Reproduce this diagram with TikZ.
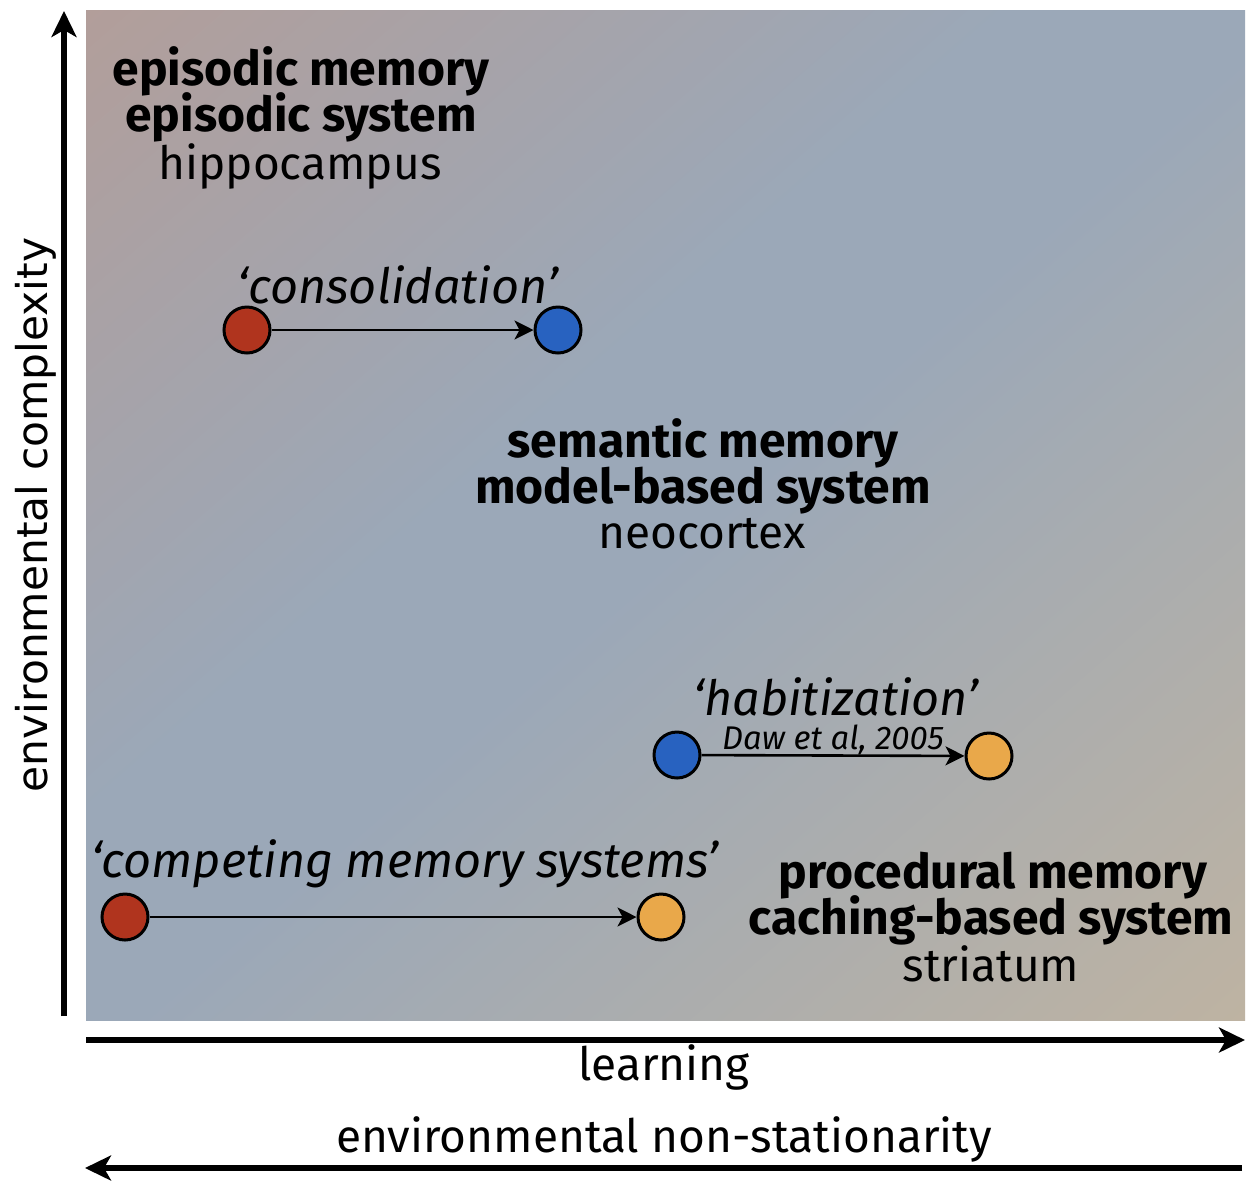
\documentclass[tikz,border=0pt]{standalone}
\usepackage{fontspec}
\setmainfont{Fira Sans}
\newfontfamily\vfont{DejaVu Sans}
\usetikzlibrary{arrows.meta}
\definecolor{bgrose}{RGB}{178,158,154}
\definecolor{bgblue}{RGB}{155,168,184}
\definecolor{bgtan}{RGB}{190,179,162}
\definecolor{cred}{RGB}{176,52,30}
\definecolor{cblue}{RGB}{40,98,192}
\definecolor{corange}{RGB}{233,168,74}
\pgfdeclareverticalshading{bgshade}{100bp}{color(0bp)=(bgtan); color(25bp)=(bgtan); color(49bp)=(bgblue); color(55bp)=(bgblue); color(75bp)=(bgrose); color(100bp)=(bgrose)}
\begin{document}
\begin{tikzpicture}[x=0.5pt,y=-0.5pt,
  boldlbl/.style={font=\bfseries\fontsize{24pt}{26pt}\selectfont, inner sep=0pt, anchor=base},
  reglbl/.style={font=\fontsize{23pt}{26pt}\selectfont, inner sep=0pt, anchor=base},
  itlbl/.style={font=\itshape\fontsize{24.3pt}{26pt}\selectfont, inner sep=0pt, anchor=base},
  smallit/.style={font=\itshape\fontsize{16.4pt}{18pt}\selectfont, inner sep=0pt, anchor=base},
  vlbl/.style={font=\vfont\fontsize{21.2pt}{24pt}\selectfont, inner sep=0pt, anchor=base, rotate=90},
  memdot/.style={circle, draw=black, line width=1.5pt, minimum size=23pt, inner sep=0pt},
  linkarrow/.style={line width=1.3pt, -{Stealth[length=9.5pt,width=9.5pt,inset=2.5pt]}},
  axisarrow/.style={line width=2.75pt, -{Stealth[length=13pt,width=12.5pt,inset=3.5pt]}}
]
\useasboundingbox (0,0) rectangle (1252,1190);
% background panel with diagonal gradient
\begin{scope}
  \clip (86,10) rectangle (1245,1020);
  \begin{scope}[transform canvas={shift={(665.5,515)},rotate=41.05}]
    \shade[shading=bgshade] (-1000,-762) rectangle (1000,762);
  \end{scope}
\end{scope}
% axes
\coordinate (ybot) at (64,1016);
\coordinate (ytop) at (64,11);
\coordinate (xl) at (86,1040);
\coordinate (xr) at (1245,1040);
\coordinate (nr) at (1242,1168);
\coordinate (nl) at (85,1168);
\draw[axisarrow] (ybot) -- (ytop);
\draw[axisarrow] (xl) -- (xr);
\draw[axisarrow] (nr) -- (nl);
\node[reglbl] (learn) at (664,1080) {learning};
\node[reglbl] (nonstat) at (664,1152) {environmental non-stationarity};
\node[vlbl] (complex) at (47,515) {environmental complexity};
% region labels
\node[boldlbl] (epi1) at (301,85) {episodic memory};
\node[boldlbl] (epi2) at (301,131) {episodic system};
\node[reglbl] (epi3) at (300,179) {hippocampus};
\node[boldlbl] (sem1) at (703,457) {semantic memory};
\node[boldlbl] (sem2) at (703,503) {model-based system};
\node[reglbl] (sem3) at (702,548) {neocortex};
\node[boldlbl] (pro1) at (993,888) {procedural memory};
\node[boldlbl] (pro2) at (991,934) {caching-based system};
\node[reglbl] (pro3) at (991,981) {striatum};
% transitions
\node[itlbl] (tcons) at (398,303) {‘consolidation’};
\node[itlbl] (thab) at (836,715) {‘habitization’};
\node[smallit] (tdaw) at (833,749) {Daw et al, 2005};
\node[itlbl] (tcomp) at (405,877) {‘competing memory systems’};
\node[memdot, fill=cred] (c1a) at (247,330) {};
\node[memdot, fill=cblue] (c1b) at (558,330) {};
\node[memdot, fill=cblue] (c2a) at (677,755) {};
\node[memdot, fill=corange] (c2b) at (989,756) {};
\node[memdot, fill=cred] (c3a) at (125,917) {};
\node[memdot, fill=corange] (c3b) at (661,917) {};
\draw[linkarrow] (c1a) -- (c1b);
\draw[linkarrow] (c2a) -- (c2b);
\draw[linkarrow] (c3a) -- (c3b);
\end{tikzpicture}
\end{document}
